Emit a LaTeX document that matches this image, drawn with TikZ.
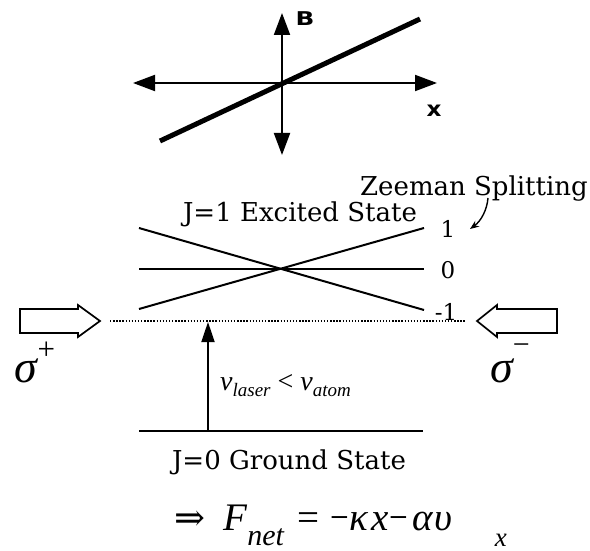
\documentclass[tikz,border=0pt]{standalone}
\usepackage{fontspec}
\newfontfamily\dvs{DejaVu Sans}
\newfontfamily\dvserif{DejaVu Serif}
\newfontfamily\tms{Liberation Serif}
\usetikzlibrary{arrows.meta}
\tikzset{
  axis/.style={line width=2pt, {Triangle[length=22pt,width=16pt]}-{Triangle[length=22pt,width=16pt]}},
  level/.style={line width=2pt},
  hollow/.style={line width=1.7pt, fill=white, line join=miter},
  txt/.style={inner sep=0pt, anchor=base, font=\dvserif\fontsize{26}{30}\selectfont},
  num/.style={inner sep=0pt, anchor=base, font=\dvserif\fontsize{23}{28}\selectfont},
  lab/.style={inner sep=0pt, font=\dvs\bfseries\fontsize{19}{22}\selectfont},
  sig/.style={inner sep=0pt, anchor=base, font=\tms\fontsize{46}{52}\selectfont},
}
\newcommand{\nmin}{\scalebox{0.85}[1]{−}}
\begin{document}
\begin{tikzpicture}[x=1pt,y=-1pt]
\useasboundingbox (0,0) rectangle (590,551);
% --- B(x) graph ---
\coordinate (xl) at (133,83);
\coordinate (xr) at (437,83);
\coordinate (bt) at (282,13);
\coordinate (bb) at (282,155);
\coordinate (fa) at (160,141);
\coordinate (fb) at (420,19);
\draw[axis] (xl) -- (xr);
\draw[axis] (bb) -- (bt);
\draw[line width=5pt] (fa) -- (fb);
\node[lab] (Blab) at (305,19) {\scalebox{1.3}[1]{B}};
\node[lab, font=\dvs\bfseries\fontsize{21}{24}\selectfont] (xlab) at (434,111) {\scalebox{1.1}[1]{x}};
% --- Zeeman levels ---
\node[txt] (zeeman) at (474,195) {Zeeman Splitting};
\node[txt] (excited) at (300,222) {J=1 Excited State};
\coordinate (p1l) at (139,228);
\coordinate (p1r) at (424,228);
\coordinate (m1l) at (139,309);
\coordinate (m1r) at (424,310);
\coordinate (z0l) at (139,269);
\coordinate (z0r) at (424,269);
\draw[level] (p1l) -- (m1r);
\draw[level] (m1l) -- (p1r);
\draw[level] (z0l) -- (z0r);
\node[num] (one) at (448,237) {1};
\node[num] (zero) at (448,278) {0};
\node[num] (mone) at (446,320) {-1};
\coordinate (za) at (488,198);
\coordinate (zb) at (470,229);
\draw[line width=1.4pt, -{Stealth[length=9pt,width=7pt]}] (za) .. controls (487,210) and (481,221) .. (zb);
% --- virtual level and lasers ---
\coordinate (dl) at (110,321);
\coordinate (dr) at (465,321);
\draw[line width=1.6pt, dash pattern=on 1.4pt off 1.7pt] (dl) -- (dr);
\draw[hollow] (20,309) -- (78,309) -- (78,305) -- (100,321) -- (78,337) -- (78,333) -- (20,333) -- cycle;
\draw[hollow] (557,309) -- (497,309) -- (497,305) -- (477,321) -- (497,337) -- (497,333) -- (557,333) -- cycle;
\node[sig] (sp) at (35,382) {\itshape σ\raisebox{0.5em}{\upshape\fontsize{31}{31}\selectfont +}};
\node[sig] (sm) at (510,382) {\itshape σ\raisebox{0.6em}{\upshape\fontsize{30}{30}\selectfont −}};
% --- ground state ---
\coordinate (gl) at (139,431);
\coordinate (gr) at (423,431);
\coordinate (ga) at (208,431);
\coordinate (gt) at (208,322);
\draw[level] (gl) -- (gr);
\draw[line width=1.8pt, -{Triangle[length=20pt,width=13pt]}] (ga) -- (gt);
\node[inner sep=0pt, anchor=base west, font=\tms\fontsize{28}{32}\selectfont] (nu) at (220,390)
  {\itshape ν\raisebox{-0.22em}{\fontsize{19}{19}\selectfont laser}\hspace{7pt}\upshape<\hspace{7pt}\itshape ν\raisebox{-0.22em}{\fontsize{19}{19}\selectfont atom}};
\node[txt] (ground) at (289,469) {J=0 Ground State};
% --- force ---
\node[inner sep=0pt, anchor=base west, font=\tms\fontsize{39}{44}\selectfont] (force) at (174,530)
  {{\dvserif\fontsize{37}{37}\selectfont ⇒}\hspace{18pt}\textit{F}\raisebox{-15pt}{\fontsize{30}{30}\selectfont\itshape net}\hspace{14pt}=\hspace{11pt}\nmin\textit{κ}\hspace{3pt}\textit{x}\nmin\hspace{5pt}\textit{α}\hspace{1pt}\textit{υ}\hspace{42pt}\raisebox{-16pt}{\fontsize{27}{27}\selectfont\itshape x}};
\end{tikzpicture}
\end{document}
